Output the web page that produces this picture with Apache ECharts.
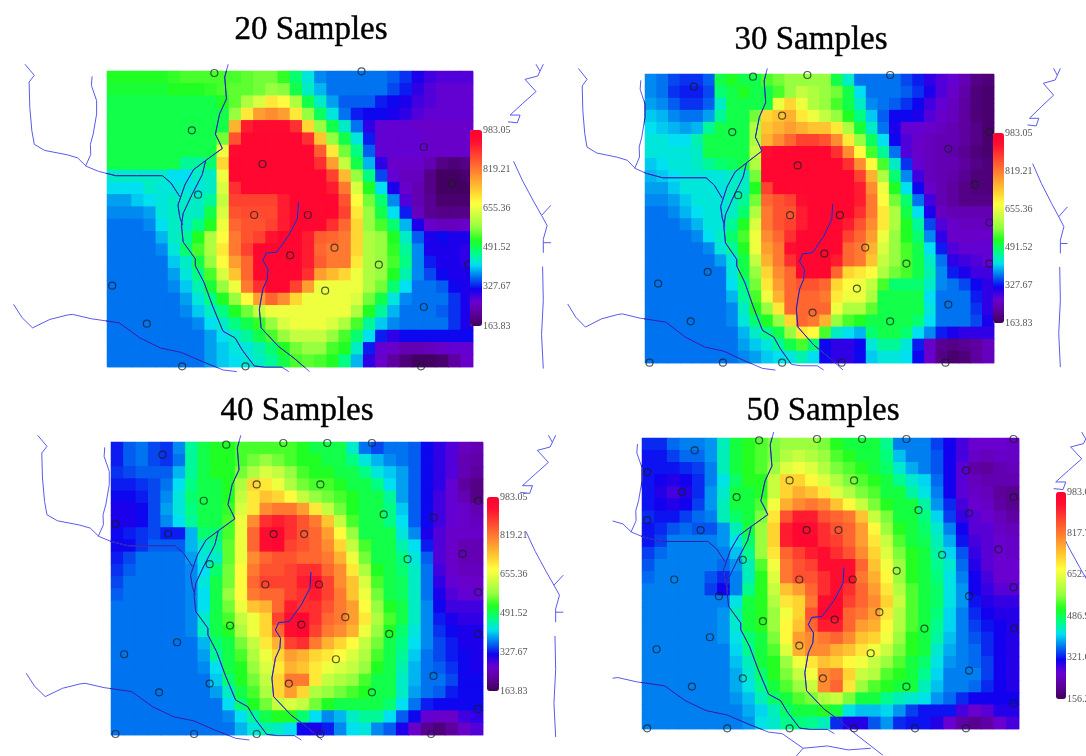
<!DOCTYPE html>
<html>
<head>
<meta charset="utf-8">
<style>html,body{margin:0;padding:0;background:#fff}#c{width:1086px;height:756px;filter:blur(0.7px)}</style>
<script src="https://cdn.jsdelivr.net/npm/echarts@6/dist/echarts.min.js"></script>
</head>
<body>
<div id="c"></div>
<script>
// Cell values in tens of the mapped unit, read row by row (top to bottom).
const heat20=[
[52,52,52,52,52,53,54,54,54,54,54,55,56,56,53,48,43,38,37,37,37,37,37,36,34,31,29,28,28,28],
[51,51,51,51,51,52,52,52,53,54,55,55,56,58,57,50,44,40,37,37,37,37,37,35,33,30,28,27,27,27],
[50,50,50,50,50,50,50,50,50,52,55,60,64,70,68,60,50,44,39,36,36,36,33,32,31,29,28,27,27,27],
[50,50,50,50,50,50,50,50,50,50,58,70,78,80,78,70,58,49,43,37,33,32,32,31,30,28,27,27,27,27],
[50,50,50,50,50,50,50,50,50,50,76,92,95,95,95,90,72,58,50,44,37,30,27,27,27,26,26,26,26,26],
[50,50,50,50,50,50,50,50,50,56,86,96,96,96,96,96,90,74,58,50,43,33,27,27,27,27,26,26,26,26],
[50,50,50,50,50,50,50,50,50,66,95,96,96,96,96,96,96,85,70,56,47,36,27,27,27,27,26,26,26,26],
[50,50,50,50,50,50,46,46,48,72,96,96,96,96,96,96,96,90,78,62,50,40,30,26,26,26,24,20,19,20],
[44,44,44,44,44,42,42,44,44,66,96,96,96,96,96,96,96,96,88,75,58,47,35,27,25,25,20,17,17,18],
[42,42,42,44,43,43,43,43,44,64,90,96,96,96,96,96,96,96,92,82,64,52,42,31,26,24,20,17,17,17],
[39,39,41,42,43,44,44,44,46,62,88,88,88,88,92,96,96,96,96,86,68,56,48,38,28,24,21,18,18,18],
[38,38,38,39,43,44,44,44,50,64,86,87,87,87,92,96,96,96,96,88,70,58,50,42,33,25,21,20,20,20],
[37,37,37,38,42,44,44,47,52,66,84,86,86,88,92,96,96,96,90,84,72,58,54,48,40,31,26,25,25,26],
[37,37,37,37,40,44,46,52,60,68,82,86,88,93,96,96,92,85,84,82,72,60,58,52,44,36,31,32,31,31],
[37,37,37,37,38,43,48,54,60,70,82,88,96,96,96,96,92,84,82,82,72,60,58,53,46,38,31,31,31,30],
[37,37,37,37,37,41,44,50,58,68,78,84,96,96,96,96,92,85,82,82,70,60,58,54,47,38,33,31,31,30],
[37,37,37,37,37,39,43,47,54,64,74,84,96,96,96,96,90,78,75,72,66,60,58,52,45,38,35,32,31,31],
[37,37,37,37,37,38,41,45,51,58,66,82,90,96,96,88,78,66,66,66,66,60,56,48,42,37,37,36,32,31],
[37,37,37,37,37,37,39,43,47,52,58,68,78,84,80,72,66,66,66,66,64,56,50,43,38,37,37,37,34,31],
[37,37,37,37,37,37,38,41,44,47,52,56,62,66,66,66,66,66,66,66,60,52,46,40,37,37,37,36,34,31],
[37,37,37,37,37,37,37,38,42,44,47,50,53,58,64,66,66,66,64,60,54,46,41,38,37,37,37,37,34,31],
[37,37,37,37,37,37,37,37,39,42,44,46,50,54,58,62,62,62,58,54,48,42,33,30,32,32,32,32,32,32],
[37,37,37,37,37,37,37,37,39,41,43,43,45,48,52,56,58,58,54,52,44,33,27,26,24,24,25,26,27,27],
[37,37,37,37,37,37,37,37,39,41,42,43,44,46,50,54,55,54,52,47,40,30,26,22,19,17,17,18,22,26]];
const heat30=[
[38,37,35,34,34,36,50,52,50,50,54,56,58,58,58,58,50,44,37,37,37,37,35,33,30,28,27,24,20,19],
[38,37,34,33,33,35,48,50,52,50,50,54,58,62,60,58,56,50,42,37,37,37,36,34,31,28,26,23,19,18],
[39,38,36,34,34,36,44,50,50,50,50,66,72,66,60,58,54,50,44,38,37,36,34,32,29,27,25,22,19,18],
[41,40,38,37,37,39,46,50,50,56,72,74,76,70,66,62,58,52,47,41,36,32,32,31,28,26,25,22,19,18],
[42,41,40,39,40,46,50,50,50,60,74,76,78,76,74,74,70,60,51,44,37,31,27,27,26,25,24,22,20,18],
[43,43,42,42,45,50,50,50,50,60,76,80,84,88,88,86,80,70,58,49,42,32,28,26,25,24,24,22,20,18],
[43,43,43,43,44,50,50,50,50,62,94,96,96,96,96,96,90,80,68,54,46,37,28,26,25,24,23,21,19,18],
[41,42,43,43,44,46,48,49,50,60,96,96,96,96,96,96,96,90,80,68,54,44,34,27,25,24,24,22,20,19],
[40,41,42,43,43,43,43,44,44,56,96,96,96,96,96,96,96,96,88,76,60,48,38,29,25,24,23,21,19,19],
[39,39,41,43,43,43,43,44,44,52,88,96,96,96,96,96,96,96,92,80,66,52,42,32,26,24,22,20,19,19],
[38,38,39,41,43,43,43,44,46,56,84,86,88,94,96,96,96,96,92,82,68,56,48,37,29,24,22,20,20,20],
[37,37,38,40,42,43,43,44,48,60,82,86,86,92,96,96,96,96,90,82,70,60,50,42,31,25,24,24,24,24],
[37,37,37,38,40,43,43,46,52,64,82,86,88,92,96,96,96,92,86,80,70,60,52,46,35,28,26,25,25,25],
[37,37,37,37,38,42,44,48,54,66,80,84,90,96,96,96,96,88,84,78,66,58,52,48,38,30,26,26,26,26],
[37,37,37,37,37,38,43,46,52,66,78,82,94,96,96,96,96,84,82,76,64,58,54,50,42,33,28,27,27,27],
[37,37,37,37,37,37,39,43,50,62,76,82,90,96,96,96,92,84,82,74,62,58,54,50,44,37,30,29,28,27],
[37,37,37,37,37,37,37,43,50,58,72,80,84,96,96,96,84,72,70,68,60,56,54,50,45,38,33,31,29,29],
[37,37,37,37,37,37,37,42,47,56,70,78,84,86,86,84,72,68,66,62,54,48,48,48,44,38,37,35,32,30],
[37,37,37,37,37,37,37,40,46,54,66,76,84,84,84,82,70,66,66,60,50,50,50,50,42,37,37,37,33,30],
[37,37,37,37,37,37,37,38,44,52,58,70,84,84,84,84,66,60,60,55,50,50,50,50,43,37,37,37,34,30],
[37,37,37,37,37,37,37,38,43,48,52,58,72,84,82,76,58,54,52,50,50,50,50,48,42,37,37,37,35,31],
[37,37,37,37,37,37,37,37,40,44,47,50,58,70,68,54,44,42,40,48,50,50,48,42,38,33,31,30,30,30],
[37,37,37,37,37,37,37,37,39,41,43,46,50,54,48,32,30,30,32,43,46,46,43,33,26,21,20,21,22,25],
[37,37,37,37,37,37,37,37,38,39,41,42,43,45,42,32,30,30,32,41,43,43,42,32,26,20,18,19,22,25]];
const heat40=[
[33,36,37,35,34,38,46,50,52,52,54,54,54,54,54,52,50,50,50,44,37,35,37,37,36,32,30,28,25,24],
[33,36,37,35,34,37,46,50,52,52,54,56,58,56,54,52,52,50,50,47,43,40,38,37,36,32,30,28,24,23],
[34,35,36,36,36,40,46,50,52,52,56,60,64,62,58,54,52,52,50,50,47,43,41,39,36,32,30,28,24,22],
[33,33,34,35,37,42,47,50,50,52,60,72,70,66,60,56,54,54,52,50,50,47,42,39,36,32,30,27,22,20],
[32,32,33,35,38,43,48,50,50,52,62,70,74,72,68,62,58,56,54,52,50,50,46,39,36,32,29,27,24,20],
[31,31,32,35,39,43,47,50,50,53,64,70,80,82,82,78,70,62,56,52,50,50,47,41,36,32,29,27,26,24],
[31,31,32,35,38,42,46,50,50,54,66,80,90,92,90,86,82,74,62,54,50,50,47,42,36,32,29,27,26,25],
[32,33,34,35,33,33,40,48,48,54,66,84,94,96,90,86,84,78,68,58,50,50,50,43,38,31,28,26,26,26],
[32,32,34,36,36,36,40,44,46,55,66,84,94,96,88,86,84,80,72,62,54,50,50,45,42,33,28,26,24,24],
[33,35,37,37,37,37,39,43,44,55,66,80,84,86,86,84,84,82,76,66,56,50,50,47,43,36,28,26,24,24],
[34,36,37,37,37,37,38,42,48,56,68,82,86,86,88,90,90,84,80,70,60,52,50,48,44,37,29,26,25,25],
[35,37,37,37,37,37,38,43,50,56,68,84,88,88,88,92,94,88,80,74,64,54,50,49,44,37,30,27,26,26],
[36,37,37,37,37,37,38,42,50,58,68,82,84,84,88,90,92,88,82,74,66,56,50,49,44,37,31,28,27,27],
[37,37,37,37,37,37,38,42,50,56,66,74,76,84,92,90,90,86,82,78,68,58,52,50,44,38,32,29,29,29],
[37,37,37,37,37,37,38,44,50,54,62,66,72,88,94,96,90,84,82,78,70,60,54,50,44,38,33,31,30,30],
[37,37,37,37,37,37,38,44,50,52,60,66,72,84,94,96,88,82,80,76,66,58,52,48,43,38,34,32,31,31],
[37,37,37,37,37,37,37,40,48,50,56,62,70,76,88,90,82,76,72,68,62,56,50,47,42,38,35,33,31,31],
[37,37,37,37,37,37,37,39,46,50,54,60,66,72,78,76,72,70,68,64,60,54,50,46,41,37,35,33,32,31],
[37,37,37,37,37,37,37,38,42,50,52,58,64,70,76,74,70,66,64,62,58,52,50,45,40,37,36,34,32,31],
[37,37,37,37,37,37,37,37,41,48,52,56,62,72,82,82,70,62,60,58,54,50,50,44,40,37,37,35,32,32],
[37,37,37,37,37,37,37,37,39,44,50,54,60,72,78,72,60,58,56,54,52,50,50,44,39,37,36,33,32,32],
[37,37,37,37,37,37,37,37,37,42,48,52,56,62,64,62,56,52,50,50,50,50,48,42,37,33,32,32,32,32],
[37,37,37,37,37,37,37,37,37,38,42,46,50,52,52,48,42,38,40,44,46,46,42,36,32,27,26,26,29,30],
[37,37,37,37,37,37,37,37,37,37,40,43,45,44,42,32,31,33,38,42,43,38,36,31,26,21,19,22,26,28]];
const heat50=[
[33,33,36,37,37,38,44,50,52,54,56,58,58,58,56,52,50,50,50,46,37,37,37,34,31,28,26,26,26,25],
[32,32,34,36,36,38,44,50,52,54,56,60,62,60,58,54,52,50,50,47,40,37,37,35,31,28,25,24,25,25],
[32,32,32,33,34,37,44,50,52,54,58,64,66,64,60,56,54,52,50,48,43,39,37,35,31,27,22,21,23,24],
[32,31,30,31,33,37,42,48,52,52,62,72,72,68,64,60,56,54,52,50,46,43,41,36,31,27,24,23,23,23],
[32,30,28,30,33,38,43,50,50,52,62,72,76,74,70,64,60,56,54,50,50,45,42,37,31,27,25,24,21,20],
[32,31,30,31,34,38,44,50,50,54,66,76,80,82,80,74,68,62,56,52,50,50,45,38,33,28,26,25,22,20],
[33,32,32,34,36,37,44,48,50,56,70,86,92,92,86,84,82,74,62,56,50,50,47,41,34,29,27,26,24,22],
[32,33,35,36,35,35,38,44,50,58,72,92,96,94,90,86,84,78,68,58,52,50,48,43,37,31,27,27,25,24],
[32,34,37,37,37,37,38,42,48,58,72,92,96,96,90,88,84,78,70,62,54,50,49,44,39,32,28,27,26,25],
[34,36,37,37,37,37,37,40,46,58,70,84,88,92,94,90,86,80,72,64,56,52,50,45,41,35,29,27,26,25],
[35,37,37,37,37,37,36,38,44,54,66,82,86,88,94,94,94,84,74,66,58,52,50,46,43,36,30,27,26,26],
[36,37,37,37,37,35,33,37,44,52,64,82,86,86,90,94,94,82,76,68,58,52,50,47,42,37,31,28,26,26],
[37,37,37,37,37,34,31,37,46,52,62,74,78,84,90,94,90,84,78,70,60,54,50,48,42,38,31,29,27,27],
[37,37,37,37,37,37,37,42,50,52,60,70,72,82,94,96,88,84,80,72,62,54,50,48,42,38,32,30,29,29],
[37,37,37,37,37,37,38,44,50,52,58,66,72,86,96,96,84,82,78,70,60,54,50,47,41,37,33,31,30,30],
[37,37,37,37,37,37,38,43,50,52,58,68,74,84,92,92,84,78,76,68,60,54,50,46,41,37,34,32,31,30],
[37,37,37,37,37,37,38,42,47,50,56,68,78,80,82,84,80,74,72,66,58,52,50,45,40,37,35,33,31,30],
[37,37,37,37,37,37,37,41,46,50,54,64,76,80,80,76,74,70,66,62,56,52,50,43,39,37,36,33,31,30],
[37,37,37,37,37,37,37,40,44,50,52,58,66,70,74,72,68,66,62,58,54,50,48,42,38,37,36,34,31,30],
[37,37,37,37,37,37,37,39,43,48,52,56,62,66,80,82,72,62,60,54,52,50,46,41,37,37,37,34,31,30],
[37,37,37,37,37,37,37,39,42,46,50,54,58,62,80,84,70,58,54,52,50,50,44,40,37,37,36,33,31,30],
[37,37,37,37,37,37,37,38,40,44,48,50,54,56,60,62,56,50,50,46,44,43,42,38,36,33,31,31,31,31],
[37,37,37,37,37,37,37,37,39,41,44,48,50,50,52,50,42,40,40,41,38,34,32,32,32,28,26,27,30,30],
[37,37,37,37,37,37,37,37,38,42,43,46,47,46,44,33,30,30,35,38,33,32,32,30,26,22,20,22,26,28]];

// Sample locations, in each scan's own map units.
const samples20=[[618,218],[1043,213],[553,390],[1223,440],[757,491],[1305,550],[571,583],[733,644],[888,644],[965,742],[837,765],[1093,793],[1352,793],[323,856],[938,871],[1223,920],[423,970],[525,1098],[708,1098],[1215,1098]];
const samples30=[[607,230],[764,225],[1003,225],[436,260],[691,347],[547,396],[1290,396],[1171,446],[736,496],[1248,553],[564,585],[714,645],[858,645],[1290,667],[931,742],[813,760],[1050,790],[1290,790],[476,815],[333,850],[907,865],[1171,913],[779,937],[427,963],[1003,963],[308,1087],[520,1087],[691,1087],[863,1087],[1163,1087]];
const samples40=[[653,200],[818,195],[945,195],[1074,195],[469,230],[741,319],[925,319],[588,368],[1381,368],[1108,409],[1252,418],[333,438],[485,467],[790,468],[878,468],[1336,527],[1177,543],[605,558],[766,619],[921,619],[1381,642],[997,717],[664,742],[870,739],[1124,767],[1381,768],[511,792],[358,828],[970,843],[1252,893],[605,916],[834,916],[459,942],[1074,942],[1381,992],[333,1067],[560,1067],[741,1067],[925,1067],[1245,1067]];
const samples50=[[623,187],[790,183],[920,183],[1048,183],[1357,183],[437,217],[1220,277],[300,283],[711,307],[897,307],[400,342],[558,357],[1357,357],[1083,396],[1229,405],[300,426],[454,456],[760,456],[852,456],[1314,514],[1151,530],[576,545],[1020,578],[378,604],[739,604],[893,604],[1357,627],[507,654],[1229,654],[970,702],[634,729],[841,724],[1100,751],[1359,751],[481,777],[327,813],[739,802],[945,825],[1229,877],[576,900],[807,900],[429,925],[1048,925],[1357,975],[300,1050],[531,1050],[711,1050],[897,1050],[1073,1050],[1220,1050]];

// Rivers and roads in shared map units.
const riverWest=[[108,172],[135,205],[120,225],[122,300],[128,370],[135,410],[165,428],[215,438],[230,441],[260,450],[285,475],[320,490],[370,503],[430,503],[505,503],[530,525],[555,565]];
const riverBranch=[[302,208],[300,235],[315,280],[315,320],[305,380],[297,410],[298,440],[283,475]];
const riverMainA=[[695,172],[685,210],[690,275],[670,320],[658,380],[668,400],[678,422],[630,458],[595,485],[570,530],[550,590],[555,625],[563,650]];
const riverMainB=[[630,458],[620,500],[590,560],[565,615],[560,650],[565,700],[600,750],[600,770],[625,820],[650,890],[680,965],[715,985],[735,1020],[770,1068],[800,1072],[850,1072],[870,1085]];
const riverCentre=[[898,582],[895,630],[870,680],[835,730],[805,733],[795,755],[810,780],[808,810],[795,840],[785,900],[790,955],[840,1010],[885,1045],[930,1085]];
const riverSouth=[[75,885],[100,925],[130,955],[180,930],[230,917],[245,915],[300,928],[380,940],[440,985],[500,1015],[560,1028],[620,1055],[680,1080],[720,1085]];
const riverEastA=[[1605,172],[1589,207],[1552,217],[1584,253],[1546,288],[1509,323],[1538,323],[1530,346],[1503,343]];
const riverEastB=[[1584,172],[1595,192]];
const riverEastC=[[1519,460],[1546,520],[1578,581],[1600,621],[1627,591]];
const riverEastD=[[1600,621],[1616,651],[1605,692],[1605,732]];
const riverEastE=[[1605,702],[1627,702]];
const riverEastF=[[1603,773],[1605,874],[1600,975],[1605,1076]];
const riverSouthExtraA=[[720,1085],[780,1129],[760,1153]];
const riverSouthExtraB=[[780,1129],[850,1122],[910,1134],[975,1129]];
const riverSouthExtraC=[[930,1085],[1010,1150]];

const rivers=[riverWest,riverBranch,riverMainA,riverMainB,riverCentre,riverSouth,riverEastA,riverEastB,riverEastC,riverEastD,riverEastE,riverEastF];
const riversExtra50=[riverSouthExtraA,riverSouthExtraB,riverSouthExtraC];

const titles=['20 Samples','30 Samples','40 Samples','50 Samples'];
const ticks20=['983.05','819.21','655.36','491.52','327.67','163.83'];
const ticks30=['983.05','819.21','655.36','491.52','327.67','163.83'];
const ticks40=['983.05','819.21','655.36','491.52','327.67','163.83'];
const ticks50=['983.05','817.75','652.39','486.99','321.63','156.27'];

const rampColors=['#40005a','#5c009a','#6a00d0','#1000f0','#0070f0','#00e0f0','#00ff80','#20ff20','#90ff40','#c8ff40','#ffff40','#ffd030','#ffa030','#ff7030','#ff4030','#ff1030','#ff0030'];

const panels=[
 {t:titles[0],heat:heat20,samples:samples20,ticks:ticks20,rect:[107,71,366,296],ext:[308,1365,212,1100],tf:[1,-37,1.01,18],minX:-1e9,extra:[],bar:[470,130,12,196],tc:[311,30]},
 {t:titles[1],heat:heat30,samples:samples30,ticks:ticks30,rect:[645,74,349,289],ext:[295,1303,222,1088],tf:[0.93,2,0.99,35],minX:-1e9,extra:[],bar:[993,133,11,190],tc:[811,40]},
 {t:titles[2],heat:heat40,samples:samples40,ticks:ticks40,rect:[111,442,372,293],ext:[320,1395,192,1070],tf:[1,0,1,0],minX:-1e9,extra:[],bar:[487,497,12,194],tc:[297,411]},
 {t:titles[3],heat:heat50,samples:samples50,ticks:ticks50,rect:[642,438,377,291],ext:[285,1373,180,1052],tf:[1,-30,0.99,-8],minX:227,extra:riversExtra50,bar:[1056,492,10,207],tc:[823,411]}
];

const WIDE=[-200,-100,1486,956];
const grid=[],xAxis=[],yAxis=[],series=[],visualMap=[],title=[];
function addGrid(r){grid.push({left:r[0],top:r[1],width:r[2],height:r[3],containLabel:false,outerBoundsMode:'none'});return grid.length-1;}
panels.forEach((p)=>{
  const [x,y,w,h]=p.rect;
  const rows=p.heat.length, cols=p.heat[0].length;
  const xCats=p.heat[0].map((_,k)=>k), yCats=p.heat.map((_,k)=>k);
  // under-layer heat grid closes the hairline seams between cells of the top layer
  const gU=addGrid([x+1,y+1,w-1,h-1]);
  xAxis.push({type:'category',gridIndex:gU,show:false,data:xCats});
  yAxis.push({type:'category',gridIndex:gU,show:false,inverse:true,data:yCats});
  const gH=addGrid([x,y,w,h]);
  xAxis.push({type:'category',gridIndex:gH,show:false,data:xCats});
  yAxis.push({type:'category',gridIndex:gH,show:false,inverse:true,data:yCats});
  // overlay grid in map units
  const gO=addGrid([x,y,w,h]);
  xAxis.push({type:'value',gridIndex:gO,show:false,min:p.ext[0],max:p.ext[1],splitLine:{show:false}});
  yAxis.push({type:'value',gridIndex:gO,show:false,inverse:true,min:p.ext[2],max:p.ext[3],splitLine:{show:false}});
  // wide overlay grid: same map scale, extends beyond the panel
  const ux=(p.ext[1]-p.ext[0])/w, uy=(p.ext[3]-p.ext[2])/h;
  const gW=addGrid(WIDE);
  xAxis.push({type:'value',gridIndex:gW,show:false,min:p.ext[0]+(WIDE[0]-x)*ux,max:p.ext[0]+(WIDE[0]+WIDE[2]-x)*ux,splitLine:{show:false}});
  yAxis.push({type:'value',gridIndex:gW,show:false,inverse:true,min:p.ext[2]+(WIDE[1]-y)*uy,max:p.ext[2]+(WIDE[1]+WIDE[3]-y)*uy,splitLine:{show:false}});
  // colour bar axis
  const vals=p.ticks.map(Number), lo=Math.min(...vals), hi=Math.max(...vals);
  const [bx,by,bw,bh]=p.bar;
  const gB=addGrid([bx,by,bw,bh]);
  xAxis.push({type:'value',gridIndex:gB,show:false,min:0,max:1});
  yAxis.push({type:'value',gridIndex:gB,position:'right',min:lo,max:hi,
    axisLine:{show:false},axisTick:{show:false},splitLine:{show:false},
    axisLabel:{show:true,customValues:vals,margin:1,fontFamily:'Liberation Serif',fontSize:10,color:'#555',
      formatter:v=>v.toFixed(2)}});
  const hd=[];
  p.heat.forEach((row,r)=>row.forEach((v,c)=>hd.push([c,r,v*10])));
  const iU=series.length;
  series.push({type:'heatmap',xAxisIndex:gU,yAxisIndex:gU,data:hd,progressive:0,animation:false,silent:true,z:1});
  const iH=series.length;
  series.push({type:'heatmap',xAxisIndex:gH,yAxisIndex:gH,data:hd,progressive:0,animation:false,silent:true,z:2});
  visualMap.push({type:'continuous',seriesIndex:[iU,iH],min:lo,max:hi,calculable:false,show:true,left:bx,top:by,itemWidth:bw,itemHeight:bh,padding:0,inRange:{color:rampColors},z:5});
  const [sx,dx,sy,dy]=p.tf;
  rivers.concat(p.extra).forEach(l=>{
    const d=l.filter(q=>q[0]>=p.minX).map(q=>[q[0]*sx+dx,q[1]*sy+dy]);
    if(d.length<2)return;
    series.push({type:'line',xAxisIndex:gW,yAxisIndex:gW,data:d,showSymbol:false,symbol:'none',clip:false,silent:true,animation:false,z:3,lineStyle:{color:'#5a5af0',width:1}});
    series.push({type:'line',xAxisIndex:gO,yAxisIndex:gO,data:d,showSymbol:false,symbol:'none',clip:true,silent:true,animation:false,z:3,lineStyle:{color:'#2222a8',width:1}});
  });
  series.push({type:'scatter',xAxisIndex:gO,yAxisIndex:gO,data:p.samples,symbol:'circle',symbolSize:7,clip:false,silent:true,animation:false,z:4,
    itemStyle:{color:'rgba(0,0,0,0)',borderColor:'rgba(20,30,30,0.9)',borderWidth:1.2}});
  title.push({text:p.t,left:p.tc[0],top:p.tc[1],textAlign:'center',textVerticalAlign:'middle',padding:0,
    textStyle:{fontFamily:'Liberation Serif',fontSize:33,fontWeight:'normal',color:'#000',textBorderColor:'#000',textBorderWidth:0.4}});
});
const chart=echarts.init(document.getElementById('c'),null,{renderer:'canvas'});
chart.setOption({animation:false,backgroundColor:'#fff',title,grid,xAxis,yAxis,series,visualMap,tooltip:{show:false}});
</script>
</body>
</html>
